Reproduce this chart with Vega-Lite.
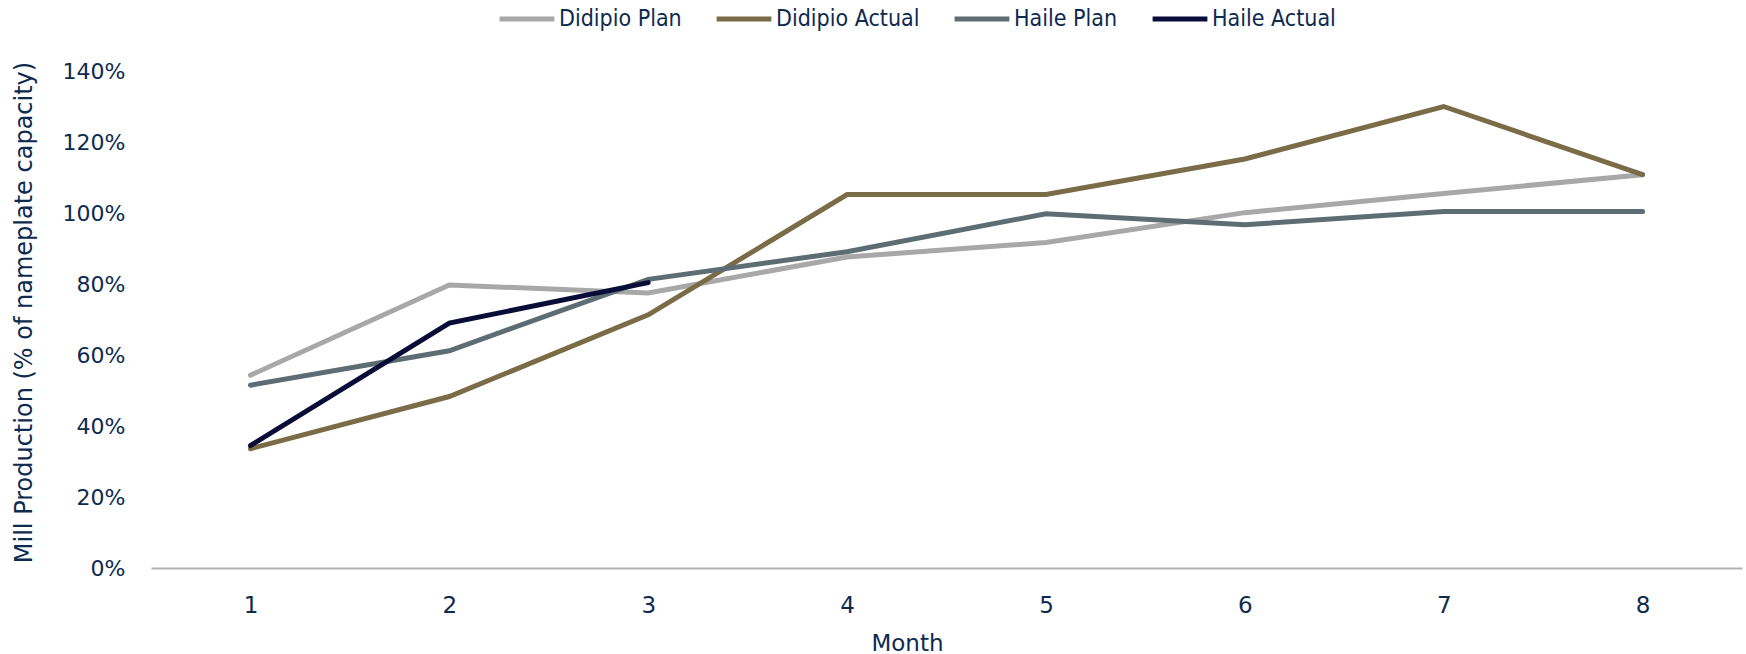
{
  "$schema": "https://vega.github.io/schema/vega-lite/v6.json",
  "width": 1591,
  "height": 497,
  "autosize": {"type": "none"},
  "padding": {"left": 151, "top": 71, "right": 4, "bottom": 86},
  "background": "white",
  "config": {
    "view": {"stroke": null},
    "axis": {"grid": false, "ticks": false}
  },
  "data": {
    "values": [
      {"Month": 1, "Series": "Didipio Plan", "Value": 0.543},
      {"Month": 2, "Series": "Didipio Plan", "Value": 0.797},
      {"Month": 3, "Series": "Didipio Plan", "Value": 0.775},
      {"Month": 4, "Series": "Didipio Plan", "Value": 0.876},
      {"Month": 5, "Series": "Didipio Plan", "Value": 0.917},
      {"Month": 6, "Series": "Didipio Plan", "Value": 1.001},
      {"Month": 7, "Series": "Didipio Plan", "Value": 1.055},
      {"Month": 8, "Series": "Didipio Plan", "Value": 1.108},
      {"Month": 1, "Series": "Didipio Actual", "Value": 0.336},
      {"Month": 2, "Series": "Didipio Actual", "Value": 0.483},
      {"Month": 3, "Series": "Didipio Actual", "Value": 0.713},
      {"Month": 4, "Series": "Didipio Actual", "Value": 1.052},
      {"Month": 5, "Series": "Didipio Actual", "Value": 1.052},
      {"Month": 6, "Series": "Didipio Actual", "Value": 1.152},
      {"Month": 7, "Series": "Didipio Actual", "Value": 1.30},
      {"Month": 8, "Series": "Didipio Actual", "Value": 1.108},
      {"Month": 1, "Series": "Haile Plan", "Value": 0.515},
      {"Month": 2, "Series": "Haile Plan", "Value": 0.612},
      {"Month": 3, "Series": "Haile Plan", "Value": 0.813},
      {"Month": 4, "Series": "Haile Plan", "Value": 0.891},
      {"Month": 5, "Series": "Haile Plan", "Value": 0.998},
      {"Month": 6, "Series": "Haile Plan", "Value": 0.967},
      {"Month": 7, "Series": "Haile Plan", "Value": 1.004},
      {"Month": 8, "Series": "Haile Plan", "Value": 1.004},
      {"Month": 1, "Series": "Haile Actual", "Value": 0.345},
      {"Month": 2, "Series": "Haile Actual", "Value": 0.69},
      {"Month": 3, "Series": "Haile Actual", "Value": 0.804}
    ]
  },
  "mark": {"type": "line", "strokeWidth": 5, "strokeCap": "round", "strokeJoin": "miter"},
  "encoding": {
    "x": {
      "field": "Month",
      "type": "ordinal",
      "scale": {"type": "point", "padding": 0.5},
      "axis": {
        "labelAngle": 0,
        "labelFont": "DejaVu Sans",
        "labelFontSize": 23,
        "labelColor": "#0d2a4f",
        "labelPadding": 26,
        "domainColor": "#b4b4b4",
        "domainWidth": 2,
        "title": "Month",
        "titleFont": "DejaVu Sans",
        "titleFontSize": 23,
        "titleFontWeight": "normal",
        "titleColor": "#0d2a4f",
        "titleX": 756,
        "titleY": 75,
        "titleAlign": "center",
        "titleBaseline": "middle"
      }
    },
    "y": {
      "field": "Value",
      "type": "quantitative",
      "scale": {"domain": [0, 1.4], "nice": false},
      "axis": {
        "values": [0, 0.2, 0.4, 0.6, 0.8, 1.0, 1.2, 1.4],
        "format": ".0%",
        "domain": false,
        "labelFont": "DejaVu Sans",
        "labelFontSize": 22,
        "labelColor": "#0d2a4f",
        "labelPadding": 26,
        "title": "Mill Production (% of nameplate capacity)",
        "titleFont": "DejaVu Sans",
        "titleFontSize": 24,
        "titleFontWeight": "normal",
        "titleColor": "#0d2a4f",
        "titleX": -127,
        "titleY": 241,
        "titleAngle": -90,
        "titleAlign": "center",
        "titleBaseline": "middle"
      }
    },
    "color": {
      "field": "Series",
      "type": "nominal",
      "scale": {
        "domain": ["Didipio Plan", "Didipio Actual", "Haile Plan", "Haile Actual"],
        "range": ["#a8a8a8", "#7a6c47", "#5d6d73", "#0a0c38"]
      },
      "legend": {
        "title": null,
        "orient": "none",
        "direction": "horizontal",
        "legendX": 346,
        "legendY": -82,
        "symbolType": "stroke",
        "symbolSize": 3000,
        "symbolStrokeWidth": 5,
        "labelFont": "DejaVu Sans Condensed, DejaVu Sans",
        "labelFontSize": 23,
        "labelColor": "#0d2a4f",
        "labelOffset": 2,
        "columnPadding": 24
      }
    }
  }
}
